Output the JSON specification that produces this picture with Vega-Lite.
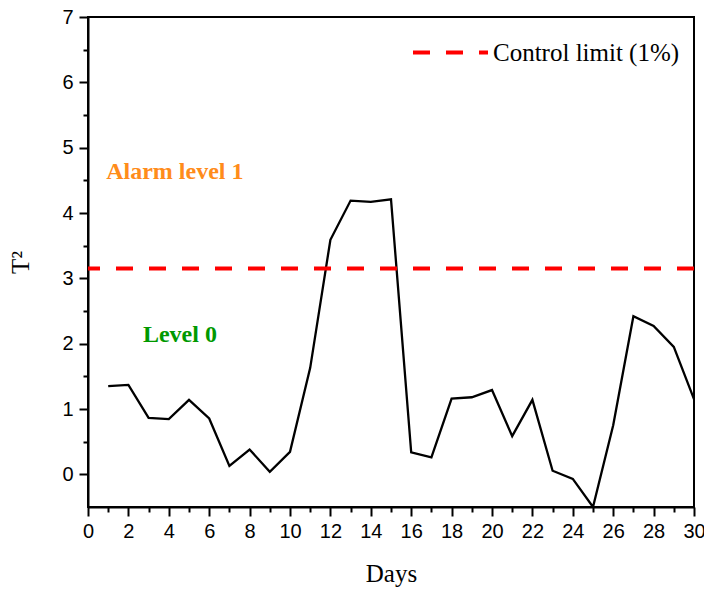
{
  "$schema": "https://vega.github.io/schema/vega-lite/v6.json",
  "width": 606,
  "height": 490,
  "autosize": "none",
  "padding": {"left": 88, "top": 17, "right": 10, "bottom": 83},
  "background": "white",
  "config": {
    "view": {"stroke": "black", "strokeWidth": 2},
    "axis": {
      "domainColor": "black", "domainWidth": 2, "tickColor": "black", "tickWidth": 2,
      "labelFont": "Liberation Sans", "labelFontSize": 20, "labelColor": "black",
      "titleFont": "Liberation Serif", "titleFontSize": 25, "titleFontWeight": "normal", "titleColor": "black",
      "grid": false
    }
  },
  "datasets": {
    "series": [
      {"day": 1, "t2": 1.35}, {"day": 2, "t2": 1.37}, {"day": 3, "t2": 0.865}, {"day": 4, "t2": 0.845},
      {"day": 5, "t2": 1.14}, {"day": 6, "t2": 0.855}, {"day": 7, "t2": 0.13}, {"day": 8, "t2": 0.38},
      {"day": 9, "t2": 0.04}, {"day": 10, "t2": 0.345}, {"day": 11, "t2": 1.63}, {"day": 12, "t2": 3.59},
      {"day": 13, "t2": 4.19}, {"day": 14, "t2": 4.17}, {"day": 15, "t2": 4.21}, {"day": 16, "t2": 0.335},
      {"day": 17, "t2": 0.26}, {"day": 18, "t2": 1.16}, {"day": 19, "t2": 1.18}, {"day": 20, "t2": 1.29},
      {"day": 21, "t2": 0.585}, {"day": 22, "t2": 1.14}, {"day": 23, "t2": 0.055}, {"day": 24, "t2": -0.07},
      {"day": 25, "t2": -0.5}, {"day": 26, "t2": 0.75}, {"day": 27, "t2": 2.42}, {"day": 28, "t2": 2.27},
      {"day": 29, "t2": 1.95}, {"day": 30, "t2": 1.15}
    ],
    "limit": [{"t2": 3.15, "name": "Control limit (1%)"}],
    "notes": [
      {"day": 0.9, "t2": 4.63, "text": "Alarm level 1", "kind": "alarm"},
      {"day": 2.72, "t2": 2.13, "text": "Level 0", "kind": "level0"}
    ]
  },
  "layer": [
    {
      "data": {"name": "series"},
      "mark": {"type": "line", "color": "black", "strokeWidth": 2.3, "clip": true},
      "encoding": {
        "x": {
          "field": "day", "type": "quantitative",
          "scale": {"domain": [0, 30], "nice": false, "zero": false},
          "axis": {
            "orient": "bottom", "title": "Days", "titlePadding": 20,
            "values": [0,2,4,6,8,10,12,14,16,18,20,22,24,26,28,30],
            "tickSize": 9, "labelPadding": 5, "labelFlush": false, "labelOverlap": false
          }
        },
        "y": {
          "field": "t2", "type": "quantitative",
          "scale": {"domain": [-0.5, 7], "nice": false, "zero": false},
          "axis": {
            "orient": "left", "title": "T²", "titlePadding": 28,
            "values": [0,1,2,3,4,5,6,7],
            "tickSize": 9, "labelPadding": 6, "labelFlush": false, "labelOverlap": false
          }
        }
      }
    },
    {
      "data": {"name": "limit"},
      "mark": {"type": "rule", "strokeWidth": 4, "strokeDash": [17, 16]},
      "encoding": {
        "y": {"field": "t2", "type": "quantitative", "axis": null},
        "color": {
          "field": "name", "type": "nominal",
          "scale": {"range": ["#ff0000"]},
          "legend": {
            "title": null, "orient": "none", "legendX": 323, "legendY": -4,
            "padding": 0, "symbolType": "stroke", "symbolSize": 5625, "symbolStrokeWidth": 4,
            "symbolDash": [17, 16], "symbolStrokeColor": "#ff0000",
            "labelFont": "Liberation Serif", "labelFontSize": 25, "labelColor": "black",
            "labelOffset": 3, "labelLimit": 400
          }
        }
      }
    },
    {
      "data": {"name": "notes"},
      "mark": {"type": "text", "align": "left", "baseline": "middle", "font": "Liberation Serif", "fontSize": 24, "fontWeight": "bold"},
      "encoding": {
        "x": {
          "field": "day", "type": "quantitative",
          "axis": {
            "orient": "bottom", "title": null, "labels": false, "domain": false,
            "values": [1,3,5,7,9,11,13,15,17,19,21,23,25,27,29], "tickSize": 5
          }
        },
        "y": {
          "field": "t2", "type": "quantitative",
          "axis": {
            "orient": "left", "title": null, "labels": false, "domain": false,
            "values": [0.5,1.5,2.5,3.5,4.5,5.5,6.5], "tickSize": 5
          }
        },
        "text": {"field": "text"},
        "color": {
          "field": "kind", "type": "nominal",
          "scale": {"domain": ["alarm", "level0"], "range": ["#ff8c1a", "#009900"]},
          "legend": null
        }
      }
    }
  ],
  "resolve": {"scale": {"color": "independent"}, "axis": {"x": "independent", "y": "independent"}}
}
